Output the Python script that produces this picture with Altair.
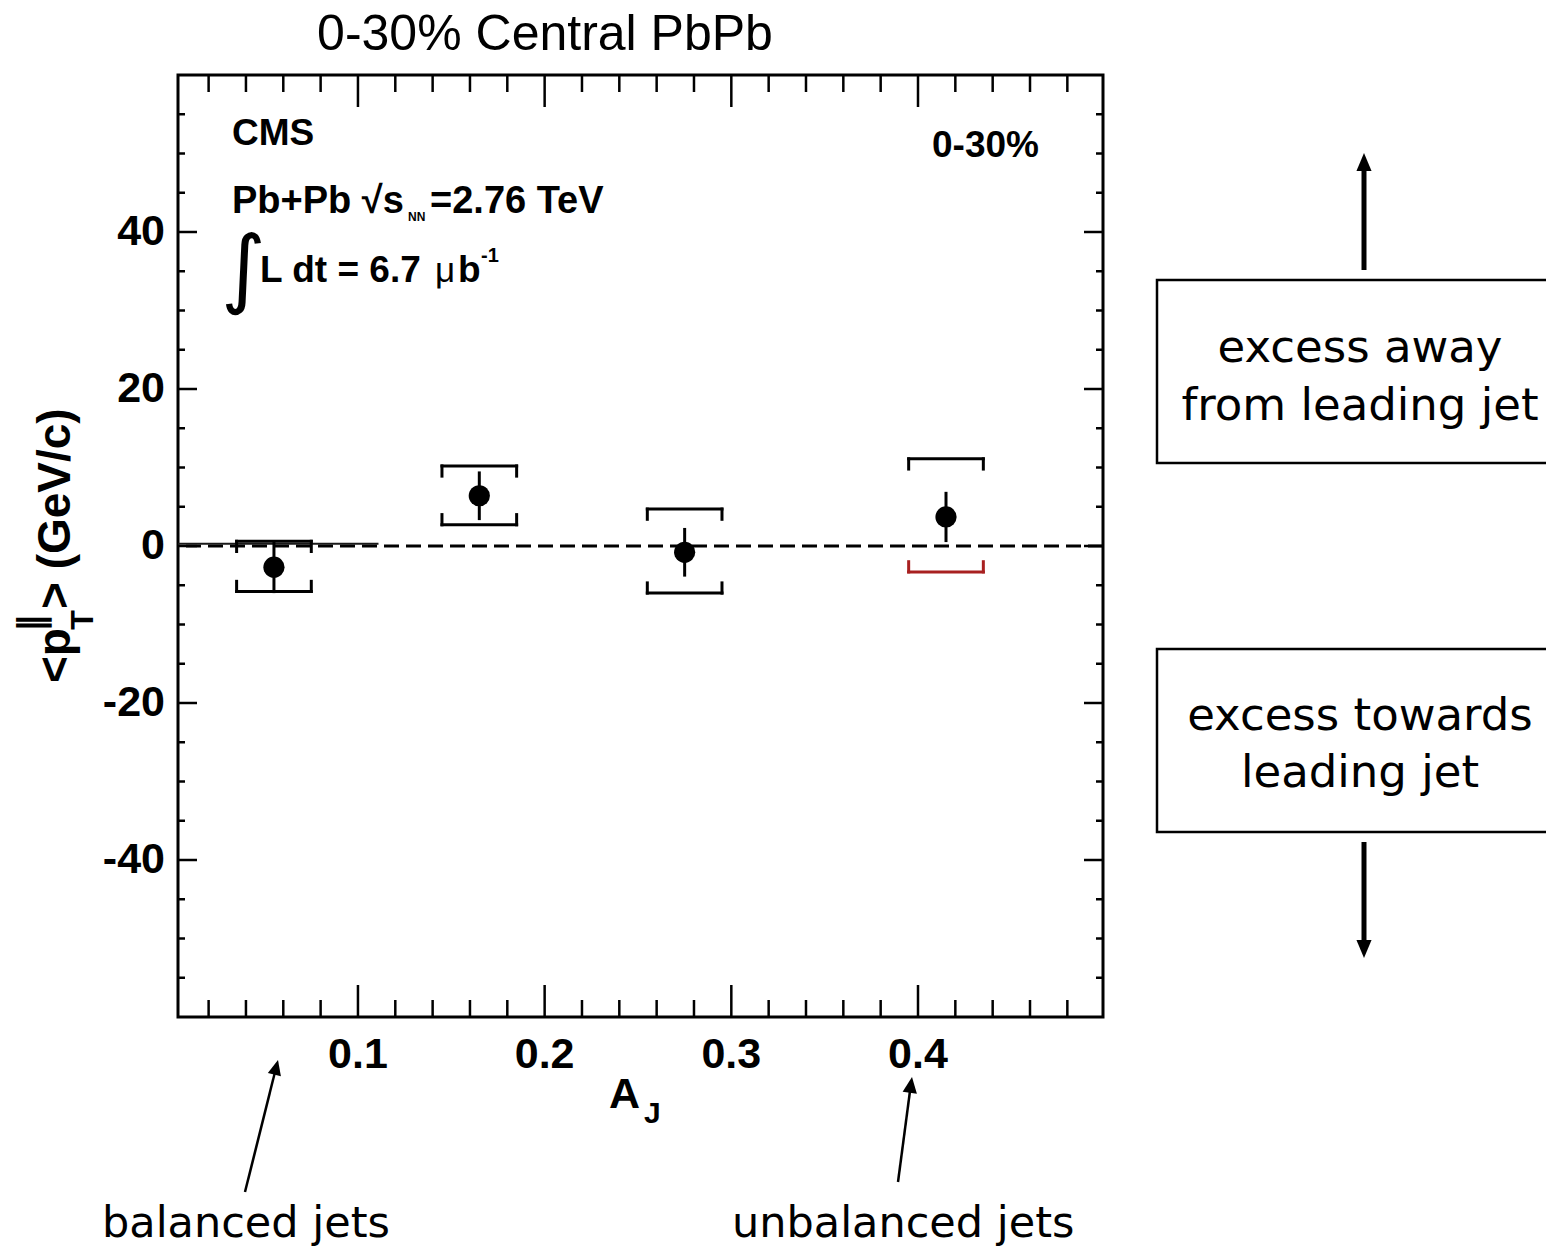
import altair as alt
import pandas as pd

# ---- measurements: mean projected pT balance vs dijet asymmetry, 0-30% PbPb ----
aj = [0.055, 0.165, 0.275, 0.415]
pt_mean = [-2.7, 6.4, -0.8, 3.7]
stat_err = [3.3, 3.1, 3.1, 3.2]
sys_low = [-5.8, 2.7, -6.0, -3.3]
sys_high = [0.6, 10.2, 4.7, 11.1]
sys_half_width = 0.02   # half width of the systematic brackets in A_J
bracket_end = 1.3       # length of the bracket ends in GeV/c

# short solid reference segment at zero on the left of the frame
ref_seg_x = [0.0036, 0.111]
ref_seg_y = 0.3

# ---- axis ticks and their labels ----
x_major = [0.1, 0.2, 0.3, 0.4]
x_labels = ["0.1", "0.2", "0.3", "0.4"]
x_minor = [0.02, 0.04, 0.06, 0.08, 0.12, 0.14, 0.16, 0.18, 0.22, 0.24, 0.26,
           0.28, 0.32, 0.34, 0.36, 0.38, 0.42, 0.44, 0.46, 0.48]
y_major = [-40, -20, 0, 20, 40]
y_labels = ["-40", "-20", "0", "20", "40"]
y_minor = [-55, -50, -45, -35, -30, -25, -15, -10, -5, 5, 10, 15, 25, 30,
           35, 45, 50, 55]
x_domain = [0.0036, 0.4991]
y_domain = [-60, 60]

W, H = 925, 942
PAD_L, PAD_T = 178, 75
PAD_R, PAD_B = 1546 - PAD_L - W, 1248 - PAD_T - H

xs = alt.Scale(domain=x_domain, nice=False, zero=False)
ys = alt.Scale(domain=y_domain, nice=False, zero=False)

df = pd.DataFrame({"aj": aj, "pt": pt_mean, "err": stat_err,
                   "lo": sys_low, "hi": sys_high})
df["x_lo"] = df["aj"] - sys_half_width
df["x_hi"] = df["aj"] + sys_half_width
df["stat_lo"] = df["pt"] - df["err"]
df["stat_hi"] = df["pt"] + df["err"]
df["hi_end"] = df["hi"] - bracket_end
df["lo_end"] = df["lo"] + bracket_end
ends = pd.concat([df.assign(xe=df["x_lo"]), df.assign(xe=df["x_hi"])])

one = pd.DataFrame({"k": [0]})


def X(field):
    return alt.X(field, type="quantitative", scale=xs, axis=None)


def Y(field):
    return alt.Y(field, type="quantitative", scale=ys, axis=None)


def note(text, x, y, size, weight="normal", font="Liberation Sans",
         angle=0, align="left", baseline="alphabetic"):
    return alt.Chart(one).mark_text(
        text=text, fontSize=size, fontWeight=weight, font=font, angle=angle,
        align=align, baseline=baseline, color="black"
    ).encode(x=alt.value(x - PAD_L), y=alt.value(y - PAD_T))


def seg(x1, y1, x2, y2, width):
    return alt.Chart(one).mark_rule(color="black", strokeWidth=width).encode(
        x=alt.value(x1 - PAD_L), y=alt.value(y1 - PAD_T),
        x2=alt.value(x2 - PAD_L), y2=alt.value(y2 - PAD_T))


def head(x, y, r, angle, path="M0,0L-0.45,1L0.45,1Z"):
    return alt.Chart(one).mark_point(
        shape=path, filled=True, color="black", opacity=1,
        size=(2 * r) ** 2, angle=angle, strokeWidth=0
    ).encode(x=alt.value(x - PAD_L), y=alt.value(y - PAD_T))


def box(x1, y1, x2, y2):
    return alt.Chart(one).mark_rect(
        fillOpacity=0, stroke="black", strokeWidth=2.5
    ).encode(x=alt.value(x1 - PAD_L), y=alt.value(y1 - PAD_T),
             x2=alt.value(x2 - PAD_L), y2=alt.value(y2 - PAD_T))


# ---- tick labels, placed through the scales ----
LABEL = dict(font="Liberation Sans", fontSize=43, fontWeight="bold",
             color="black")
xl = alt.Chart(pd.DataFrame({"v": x_major, "t": x_labels})).mark_text(
    align="center", baseline="top", **LABEL
).encode(x=X("v"), y=alt.value(H + 17), text="t:N")
yl = alt.Chart(pd.DataFrame({"v": y_major, "t": y_labels})).mark_text(
    align="right", baseline="middle", **LABEL
).encode(y=Y("v"), x=alt.value(-13), text="t:N")

# ---- inward ticks on all four sides ----
xt_major = pd.DataFrame({"v": x_major})
xt_minor = pd.DataFrame({"v": x_minor})
yt_major = pd.DataFrame({"v": y_major})
yt_minor = pd.DataFrame({"v": y_minor})


def xticks(d, length):
    bottom = alt.Chart(d).mark_rule(color="black", strokeWidth=2.5).encode(
        x=X("v"), y=alt.value(H), y2=alt.value(H - length))
    top = alt.Chart(d).mark_rule(color="black", strokeWidth=2.5).encode(
        x=X("v"), y=alt.value(0), y2=alt.value(length))
    return [bottom, top]


def yticks(d, length):
    left = alt.Chart(d).mark_rule(color="black", strokeWidth=2.5).encode(
        y=Y("v"), x=alt.value(0), x2=alt.value(length))
    right = alt.Chart(d).mark_rule(color="black", strokeWidth=2.5).encode(
        y=Y("v"), x=alt.value(W - length), x2=alt.value(W))
    return [left, right]


ticks = (xticks(xt_major, 32) + xticks(xt_minor, 17)
         + yticks(yt_major, 19) + yticks(yt_minor, 7))

# ---- zero line and reference segment ----
zero = alt.Chart(pd.DataFrame({"y": [0]})).mark_rule(
    color="black", strokeWidth=3, strokeDash=[15, 7]).encode(y=Y("y"))
ref = alt.Chart(pd.DataFrame({"x0": [ref_seg_x[0]], "x1": [ref_seg_x[1]],
                              "y": [ref_seg_y]})).mark_rule(
    color="#1a1a1a", strokeWidth=2).encode(x=X("x0"), x2="x1", y=Y("y"))

# ---- systematic brackets ----
lower_color = alt.condition(alt.datum.aj > 0.4, alt.value("#a82020"),
                            alt.value("black"))
up_bar = alt.Chart(df).mark_rule(color="black", strokeWidth=3,
                                 strokeCap="square").encode(
    x=X("x_lo"), x2="x_hi", y=Y("hi"))
up_end = alt.Chart(ends).mark_rule(color="black", strokeWidth=3,
                                   strokeCap="square").encode(
    x=X("xe"), y=Y("hi"), y2="hi_end")
lo_bar = alt.Chart(df).mark_rule(strokeWidth=3, strokeCap="square").encode(
    x=X("x_lo"), x2="x_hi", y=Y("lo"), color=lower_color)
lo_end = alt.Chart(ends).mark_rule(strokeWidth=3, strokeCap="square").encode(
    x=X("xe"), y=Y("lo"), y2="lo_end", color=lower_color)

# ---- statistical errors and points ----
stat = alt.Chart(df).mark_rule(color="black", strokeWidth=3).encode(
    x=X("aj"), y=Y("stat_lo"), y2="stat_hi")
pts = alt.Chart(df).mark_point(filled=True, shape="circle", size=450,
                               color="black", opacity=1).encode(
    x=X("aj"), y=Y("pt"))

# ---- text inside the frame ----
B = "bold"
panel = [
    note("CMS", 232, 145, 37, B),
    note("Pb+Pb \u221As", 232, 213, 38, B),
    note("NN", 408, 221, 12, B),
    note("=2.76 TeV", 430, 213, 38, B),
    note("\u222B", 221, 297, 86, "normal", "DejaVu Sans"),
    note("L dt = 6.7", 260, 282, 37, B),
    note("\u03BC", 435, 282, 35, "normal"),
    note("b", 458, 282, 37, B),
    note("-1", 481, 262, 20, B),
    note("0-30%", 932, 157, 37, B),
]

# ---- titles ----
titles = [
    note("0-30% Central PbPb", 545, 50, 50, align="center"),
    note("A", 609, 1108, 43, B),
    note("J", 644, 1123, 30, B),
    note("<p", 70, 683, 46, B, angle=270),
    note("\u2016", 43, 623, 36, B, "DejaVu Sans", angle=270, align="center"),
    note("T", 93, 620, 32, B, angle=270, align="center"),
    note("> (GeV/c)", 70, 609, 46, B, angle=270),
]

# ---- side annotations ----
SF = "DejaVu Sans"
side = [
    box(1157, 280, 1600, 463),
    box(1157, 649, 1600, 832),
    note("excess away", 1360, 362, 45, font=SF, align="center"),
    note("from leading jet", 1360, 420, 45, font=SF, align="center"),
    note("excess towards", 1360, 730, 45, font=SF, align="center"),
    note("leading jet", 1360, 787, 45, font=SF, align="center"),
    seg(1364, 168, 1364, 270, 5),
    head(1364, 153, 18, 0, "M0,0L-0.42,1L0.42,1Z"),
    seg(1364, 842, 1364, 944, 5),
    head(1364, 958, 18, 0, "M0,0L-0.42,-1L0.42,-1Z"),
    note("balanced jets", 102, 1237, 43, font=SF),
    note("unbalanced jets", 732, 1237, 43, font=SF),
    seg(245, 1192, 275, 1072, 2.5),
    head(278, 1060, 15, 14),
    seg(898, 1182, 910, 1091, 2.5),
    head(912, 1077, 16, 8),
]

chart = alt.layer(
    *ticks, zero, ref, up_bar, up_end, lo_bar, lo_end, stat, pts, xl, yl,
    *panel, *titles, *side
).properties(
    width=W, height=H,
    padding={"left": PAD_L, "top": PAD_T, "right": PAD_R, "bottom": PAD_B},
    autosize=alt.AutoSizeParams(type="none"),
    background="white",
).configure_view(
    stroke="black", strokeWidth=3
)

chart.save("out.html", embed_options={"renderer": "svg", "actions": False})
